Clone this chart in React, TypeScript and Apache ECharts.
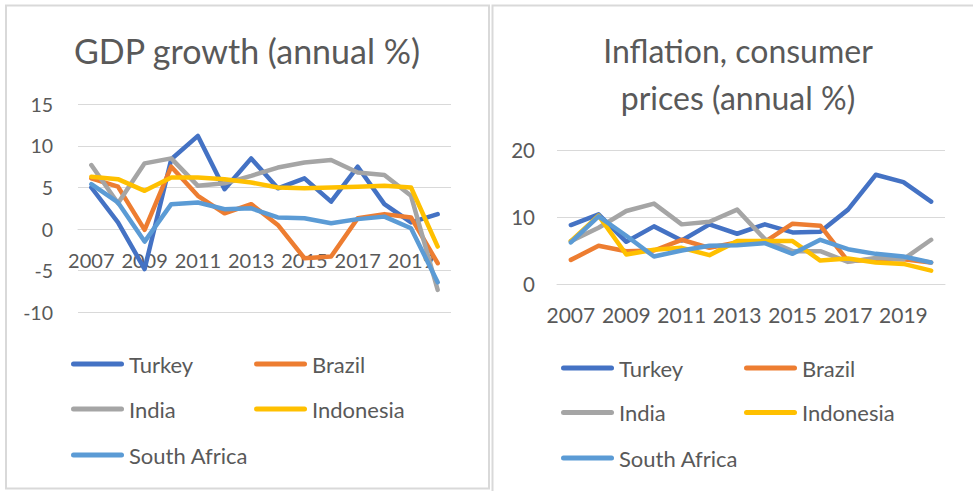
import React, { useEffect, useRef } from "react";
import * as echarts from "echarts";

const years = ["2007", "2008", "2009", "2010", "2011", "2012", "2013", "2014", "2015", "2016", "2017", "2018", "2019", "2020"];
const countries = ["Turkey", "Brazil", "India", "Indonesia", "South Africa"];
const colors = ["#4472C4", "#ED7D31", "#A5A5A5", "#FFC000", "#5B9BD5"];

// GDP growth (annual %)
const gdpTurkey = [5.0, 0.8, -4.8, 8.4, 11.2, 4.8, 8.5, 4.9, 6.1, 3.3, 7.5, 3.0, 0.8, 1.8];
const gdpBrazil = [6.1, 5.1, -0.1, 7.5, 4.0, 1.9, 3.0, 0.5, -3.5, -3.3, 1.3, 1.8, 1.4, -4.1];
const gdpIndia = [7.7, 3.1, 7.9, 8.5, 5.2, 5.5, 6.4, 7.4, 8.0, 8.3, 6.8, 6.5, 4.0, -7.3];
const gdpIndonesia = [6.3, 6.0, 4.6, 6.2, 6.2, 6.0, 5.6, 5.0, 4.9, 5.0, 5.1, 5.2, 5.0, -2.1];
const gdpSouthAfrica = [5.4, 3.2, -1.5, 3.0, 3.2, 2.4, 2.5, 1.4, 1.3, 0.7, 1.2, 1.5, 0.1, -6.4];

// Inflation, consumer prices (annual %)
const infTurkey = [8.8, 10.4, 6.3, 8.6, 6.5, 8.9, 7.5, 8.9, 7.7, 7.8, 11.1, 16.3, 15.2, 12.3];
const infBrazil = [3.6, 5.7, 4.9, 5.0, 6.6, 5.4, 6.2, 6.3, 9.0, 8.7, 3.4, 3.7, 3.7, 3.2];
const infIndia = [6.4, 8.4, 10.9, 12.0, 8.9, 9.3, 11.1, 6.7, 4.9, 4.9, 3.3, 3.9, 3.7, 6.6];
const infIndonesia = [6.4, 10.2, 4.4, 5.1, 5.4, 4.3, 6.4, 6.4, 6.4, 3.5, 3.8, 3.2, 3.0, 2.0];
const infSouthAfrica = [6.2, 10.1, 7.2, 4.1, 5.0, 5.7, 5.8, 6.1, 4.5, 6.6, 5.2, 4.5, 4.1, 3.2];

const gdpSeries = [gdpTurkey, gdpBrazil, gdpIndia, gdpIndonesia, gdpSouthAfrica];
const infSeries = [infTurkey, infBrazil, infIndia, infIndonesia, infSouthAfrica];

const gdpTicks = { min: -10, max: 15, interval: 5 };
const infTicks = { min: 0, max: 20, interval: 10 };

const FONT = "Lato, 'Open Sans', sans-serif";
const TEXT = "#595959";
const GRID = "#d9d9d9";
const capsule = "path://M2.5,0 H50.5 A2.5,2.5 0 0 1 50.5,5 H2.5 A2.5,2.5 0 0 1 2.5,0 Z";

function legendItem(name: string, left: number, cy: number) {
  return {
    data: [name],
    left,
    top: cy - 11,
    padding: 0,
    itemWidth: 53,
    itemHeight: 5,
    icon: capsule,
    selectedMode: false,
    textStyle: { fontSize: 22, fontFamily: FONT, color: TEXT, lineHeight: 22 },
  };
}

export default function App() {
  const ref = useRef<HTMLDivElement>(null);
  useEffect(() => {
    if (!ref.current) return;
    const chart = echarts.init(ref.current, null, { renderer: "svg" });
    const xAxisBase = (gridIndex: number, fontSize: number, margin: number, offset: number) => ({
      type: "category",
      gridIndex,
      data: years,
      boundaryGap: true,
      offset,
      axisTick: { show: false },
      axisLine: { show: true, onZero: false, lineStyle: { color: GRID, width: 1 } },
      axisLabel: { interval: 1, fontSize, fontFamily: FONT, color: TEXT, margin },
      splitLine: { show: false },
    });
    const yAxisBase = (gridIndex: number, ticks: any, fontSize: number, margin: number) => ({
      type: "value",
      gridIndex,
      min: ticks.min,
      max: ticks.max,
      interval: ticks.interval,
      axisLine: { show: false },
      axisTick: { show: false },
      axisLabel: { fontSize, fontFamily: FONT, color: TEXT, margin },
      splitLine: { show: true, lineStyle: { color: GRID, width: 1 } },
    });
    const series: any[] = [];
    countries.forEach((c, i) => {
      series.push({
        name: c,
        type: "line",
        xAxisIndex: 0,
        yAxisIndex: 0,
        data: gdpSeries[i],
        showSymbol: false,
        color: colors[i],
        lineStyle: { width: 4.5, color: colors[i], cap: "round", join: "round" },
      });
    });
    countries.forEach((c, i) => {
      series.push({
        name: c,
        type: "line",
        xAxisIndex: 1,
        yAxisIndex: 1,
        data: infSeries[i],
        showSymbol: false,
        color: colors[i],
        lineStyle: { width: 4.5, color: colors[i], cap: "round", join: "round" },
      });
    });
    // left x axis sits on the zero line: grid bottom (312.3) minus zero line (229.3)
    const leftZeroOffset = -(208 * (0 - gdpTicks.min)) / (gdpTicks.max - gdpTicks.min);
    const option: any = {
      animation: false,
      backgroundColor: "#ffffff",
      grid: [
        { left: 78, top: 104.3, width: 373, height: 208, containLabel: false },
        { left: 557, top: 150, width: 388, height: 134, containLabel: false },
      ],
      xAxis: [xAxisBase(0, 20, 21, leftZeroOffset), xAxisBase(1, 21, 20, 0)],
      yAxis: [yAxisBase(0, gdpTicks, 19.5, 25), yAxisBase(1, infTicks, 20.5, 22)],
      legend: [
        legendItem("Turkey", 71, 364),
        legendItem("Brazil", 254, 364),
        legendItem("India", 71, 409),
        legendItem("Indonesia", 254, 409),
        legendItem("South Africa", 71, 455),
        legendItem("Turkey", 561, 368),
        legendItem("Brazil", 744, 368),
        legendItem("India", 561, 412.5),
        legendItem("Indonesia", 744, 412.5),
        legendItem("South Africa", 561, 458),
      ],
      graphic: [
        {
          type: "rect",
          shape: { x: 6, y: 5.5, width: 483, height: 483 },
          style: { fill: "none", stroke: GRID, lineWidth: 2 },
          silent: true,
        },
        {
          type: "rect",
          shape: { x: 492.5, y: 5.5, width: 520, height: 520 },
          style: { fill: "none", stroke: GRID, lineWidth: 2 },
          silent: true,
        },
        {
          type: "text",
          x: 247,
          y: 50,
          style: { text: "GDP growth (annual %)", align: "center", verticalAlign: "middle", fontSize: 34, fontFamily: FONT, fill: TEXT },
        },
        {
          type: "text",
          x: 738,
          y: 50,
          style: { text: "Inflation, consumer", align: "center", verticalAlign: "middle", fontSize: 32, fontFamily: FONT, fill: TEXT },
        },
        {
          type: "text",
          x: 738,
          y: 97,
          style: { text: "prices (annual %)", align: "center", verticalAlign: "middle", fontSize: 32, fontFamily: FONT, fill: TEXT },
        },
      ],
      series,
    };
    chart.setOption(option);
    return () => chart.dispose();
  }, []);
  return (
    <div
      ref={ref}
      style={{ position: "fixed", left: 0, top: 0, width: 973, height: 491, background: "#fff" }}
    />
  );
}
